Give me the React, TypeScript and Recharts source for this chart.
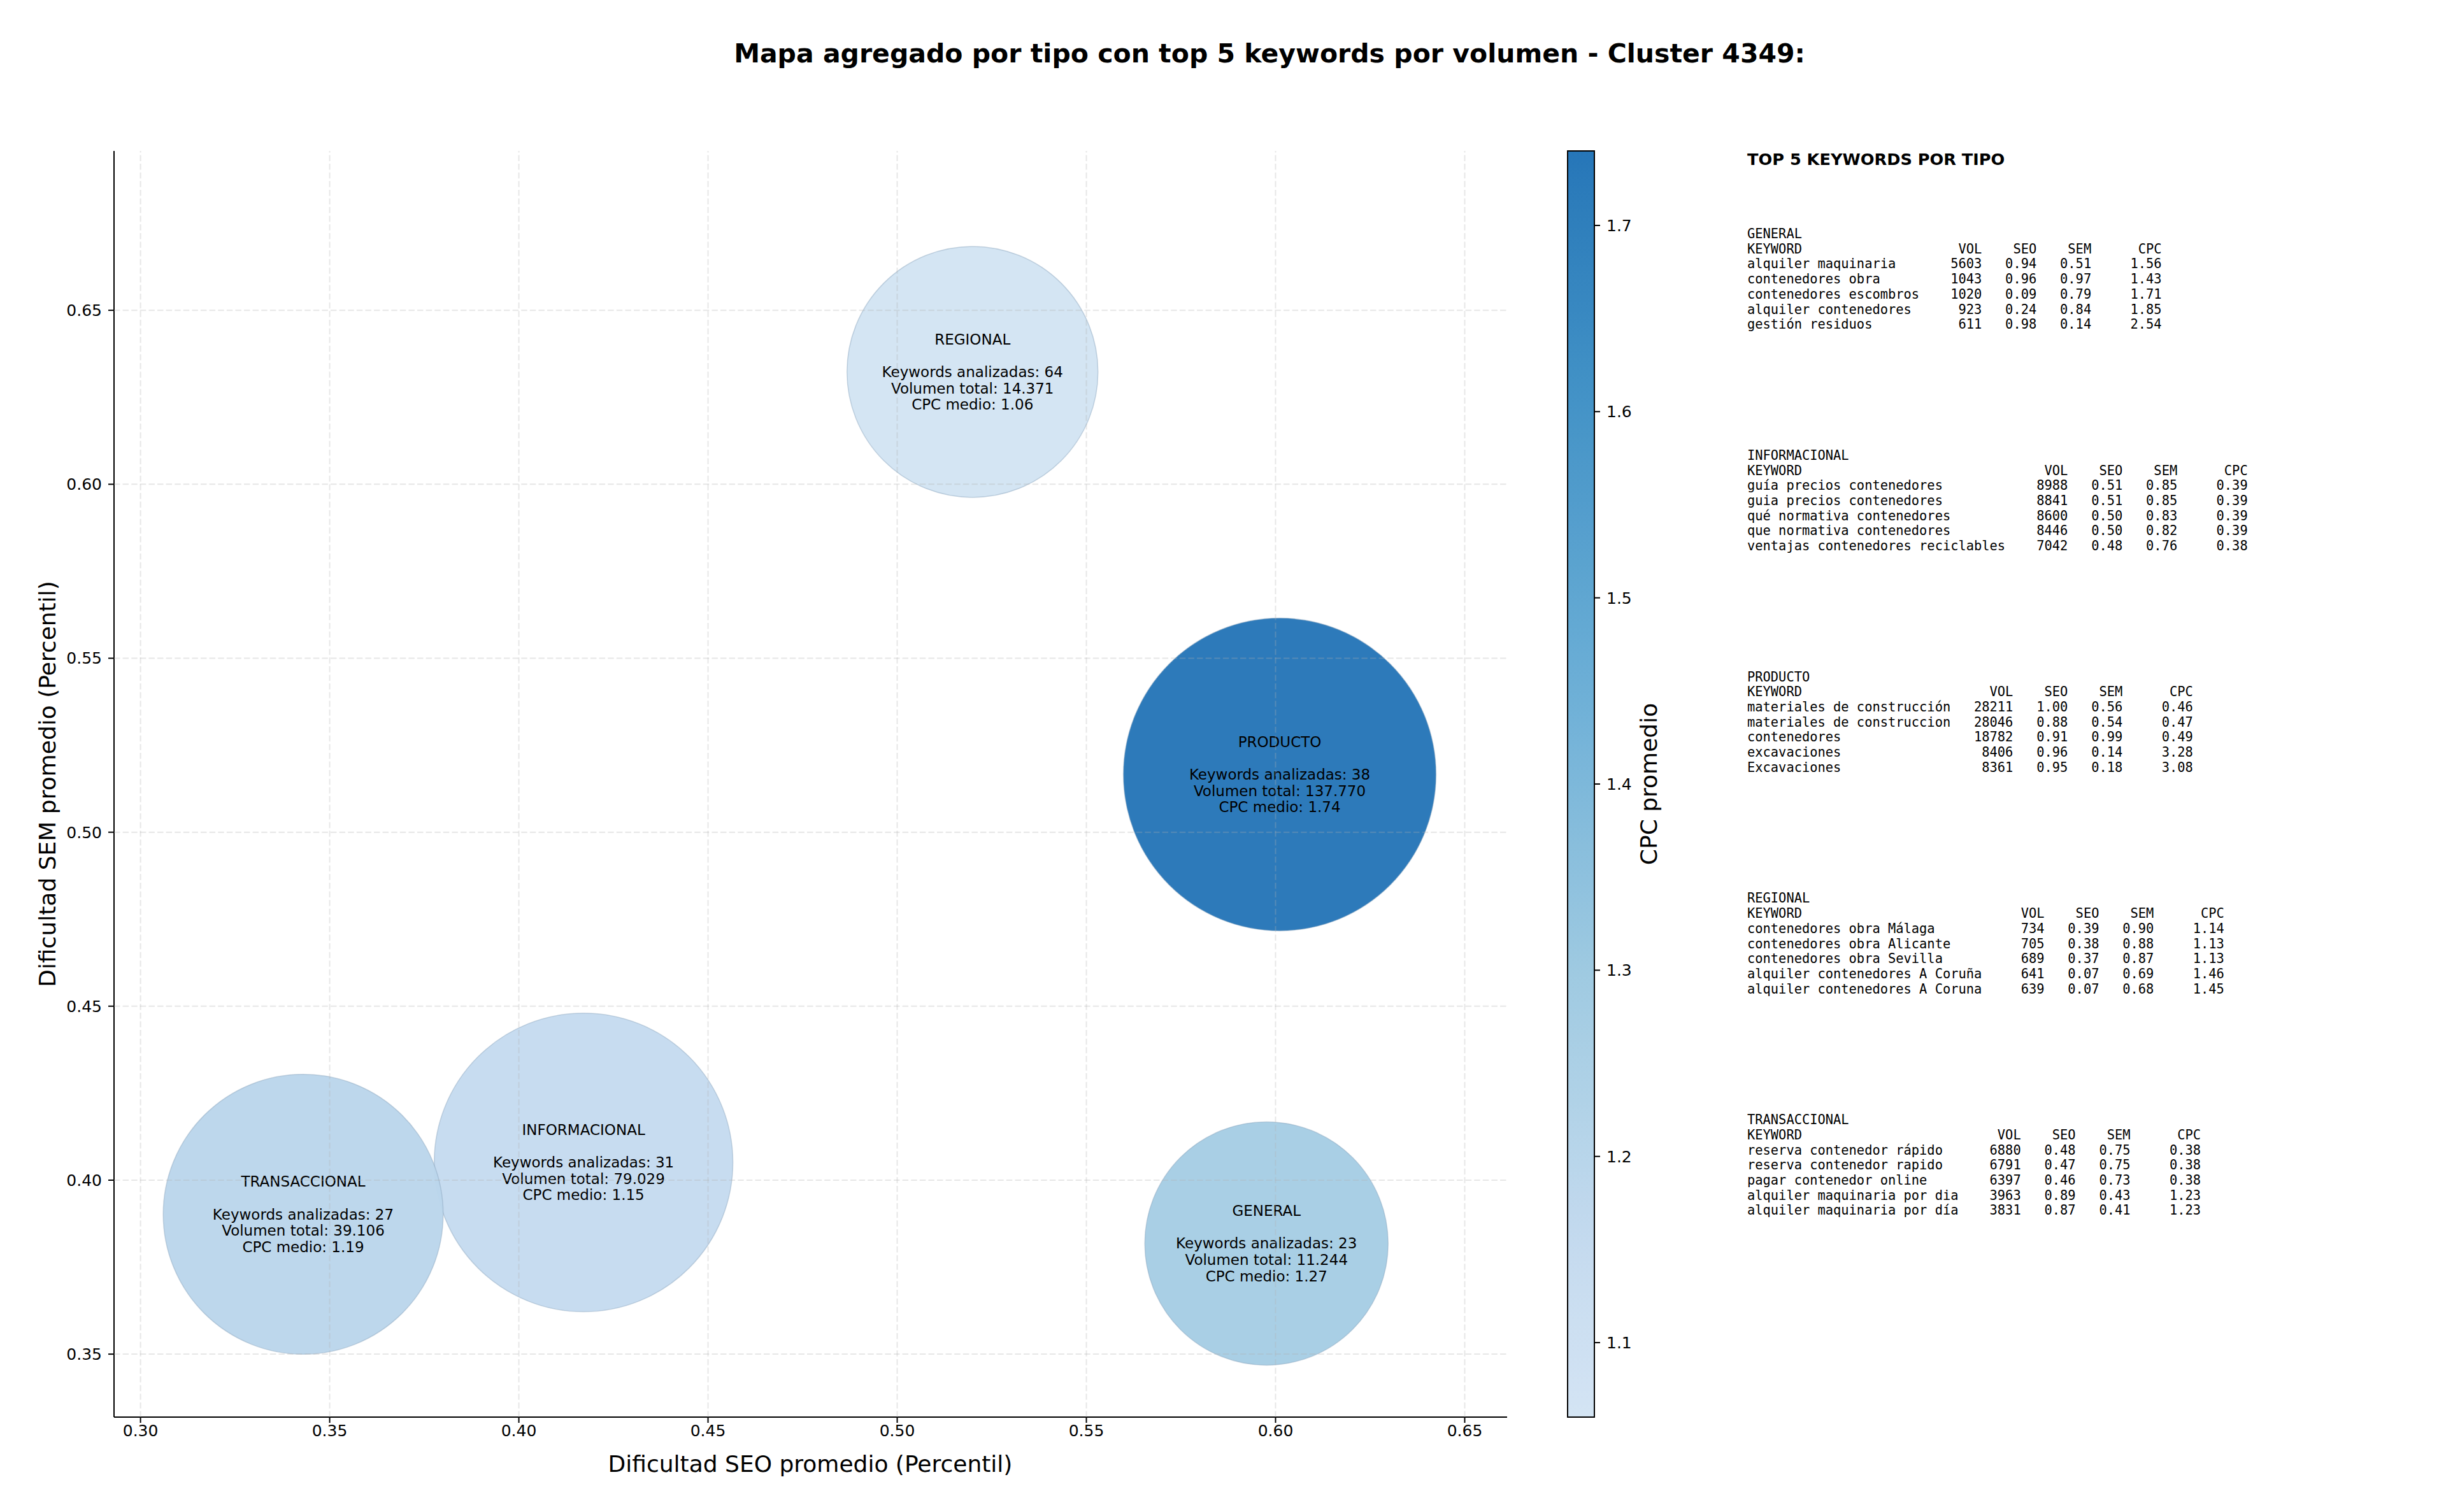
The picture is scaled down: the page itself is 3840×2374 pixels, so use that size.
import React from 'react';
import { ScatterChart, Scatter, XAxis, YAxis, ZAxis, ReferenceLine, BarChart, Bar } from 'recharts';

// aggregated values per type (alphabetical, same order as the table)
const tipos = ['GENERAL', 'INFORMACIONAL', 'PRODUCTO', 'REGIONAL', 'TRANSACCIONAL'];
const seoMedio = [0.5976, 0.4171, 0.6011, 0.5199, 0.343];
const semMedio = [0.3818, 0.4051, 0.5166, 0.6323, 0.3902];
const numKeywords = [23, 31, 38, 64, 27];
const volumenTotal = [11244, 79029, 137770, 14371, 39106];
const cpcMedio = [1.27, 1.15, 1.74, 1.06, 1.19];

const xTicks = [0.3, 0.35, 0.4, 0.45, 0.5, 0.55, 0.6, 0.65];
const yTicks = [0.35, 0.4, 0.45, 0.5, 0.55, 0.6, 0.65];
const cbTicks = [1.1, 1.2, 1.3, 1.4, 1.5, 1.6, 1.7];

type Row = [string, number, number, number, number];

// top 5 keywords por volumen: keyword, vol, seo, sem, cpc
const topGeneral: Row[] = [
  ['alquiler maquinaria', 5603, 0.94, 0.51, 1.56],
  ['contenedores obra', 1043, 0.96, 0.97, 1.43],
  ['contenedores escombros', 1020, 0.09, 0.79, 1.71],
  ['alquiler contenedores', 923, 0.24, 0.84, 1.85],
  ['gestión residuos', 611, 0.98, 0.14, 2.54],
];
const topInformacional: Row[] = [
  ['guía precios contenedores', 8988, 0.51, 0.85, 0.39],
  ['guia precios contenedores', 8841, 0.51, 0.85, 0.39],
  ['qué normativa contenedores', 8600, 0.5, 0.83, 0.39],
  ['que normativa contenedores', 8446, 0.5, 0.82, 0.39],
  ['ventajas contenedores reciclables', 7042, 0.48, 0.76, 0.38],
];
const topProducto: Row[] = [
  ['materiales de construcción', 28211, 1.0, 0.56, 0.46],
  ['materiales de construccion', 28046, 0.88, 0.54, 0.47],
  ['contenedores', 18782, 0.91, 0.99, 0.49],
  ['excavaciones', 8406, 0.96, 0.14, 3.28],
  ['Excavaciones', 8361, 0.95, 0.18, 3.08],
];
const topRegional: Row[] = [
  ['contenedores obra Málaga', 734, 0.39, 0.9, 1.14],
  ['contenedores obra Alicante', 705, 0.38, 0.88, 1.13],
  ['contenedores obra Sevilla', 689, 0.37, 0.87, 1.13],
  ['alquiler contenedores A Coruña', 641, 0.07, 0.69, 1.46],
  ['alquiler contenedores A Coruna', 639, 0.07, 0.68, 1.45],
];
const topTransaccional: Row[] = [
  ['reserva contenedor rápido', 6880, 0.48, 0.75, 0.38],
  ['reserva contenedor rapido', 6791, 0.47, 0.75, 0.38],
  ['pagar contenedor online', 6397, 0.46, 0.73, 0.38],
  ['alquiler maquinaria por dia', 3963, 0.89, 0.43, 1.23],
  ['alquiler maquinaria por día', 3831, 0.87, 0.41, 1.23],
];
const topPorTipo = [topGeneral, topInformacional, topProducto, topRegional, topTransaccional];

// matplotlib "Blues", truncated
const BLUES = [
  [247, 251, 255], [222, 235, 247], [198, 219, 239], [158, 202, 225], [107, 174, 214],
  [66, 146, 198], [33, 113, 181], [8, 81, 156], [8, 48, 107],
];
function blues(t: number) {
  const p = Math.max(0, Math.min(1, t)) * 8;
  const i = Math.min(7, Math.floor(p));
  const f = p - i;
  const c = BLUES[i].map((v, k) => Math.round(v + (BLUES[i + 1][k] - v) * f));
  return `rgb(${c[0]},${c[1]},${c[2]})`;
}
const cpcMin = Math.min(...cpcMedio);
const cpcMax = Math.max(...cpcMedio);
const cpcColor = (v: number) => blues(0.18 + ((v - cpcMin) / (cpcMax - cpcMin)) * 0.55);

const fmtMiles = (n: number) => String(n).replace(/\B(?=(\d{3})+(?!\d))/g, '.');

const bubbles = tipos.map((t, i) => ({
  tipo: t,
  seo: seoMedio[i],
  sem: semMedio[i],
  n: numKeywords[i],
  vol: volumenTotal[i],
  cpc: cpcMedio[i],
  z: Math.log(volumenTotal[i]),
}));
const zMin = Math.min(...bubbles.map(b => b.z));
const zMax = Math.max(...bubbles.map(b => b.z));

const colorbarData = [{ name: 'cpc', range: [cpcMin, cpcMax] }];

const FONT = 'DejaVu Sans, Liberation Sans, sans-serif';
const MONO = 'DejaVu Sans Mono, Liberation Mono, monospace';

function Bubble(props: any) {
  const { cx, cy, payload } = props;
  const r = props.width ? props.width / 2 : Math.sqrt(props.size / Math.PI);
  const lines = [payload.tipo, '', `Keywords analizadas: ${payload.n}`, `Volumen total: ${fmtMiles(payload.vol)}`, `CPC medio: ${payload.cpc.toFixed(2)}`];
  return (
    <g>
      <circle cx={cx} cy={cy} r={r} fill={cpcColor(payload.cpc)} fillOpacity={0.97} stroke="#8aa4bd" strokeOpacity={0.45} strokeWidth={1.5} />
      {lines.map((l, k) => (
        <text key={k} x={cx} y={cy + (k - 2) * 25.6} textAnchor="middle" dominantBaseline="central" fontSize={23} fontFamily={FONT} fill="#000">{l}</text>
      ))}
    </g>
  );
}

function tableLines(tipo: string, rows: Row[]) {
  const w = Math.max(...rows.map(r => r[0].length)) + 2;
  const head = 'KEYWORD'.padEnd(w) + 'VOL'.padStart(6) + 'SEO'.padStart(7) + 'SEM'.padStart(7) + 'CPC'.padStart(9);
  const body = rows.map(r => r[0].padEnd(w) + String(r[1]).padStart(6) + r[2].toFixed(2).padStart(7) + r[3].toFixed(2).padStart(7) + r[4].toFixed(2).padStart(9));
  return [tipo, head, ...body];
}

const axisStyle = { stroke: '#000', strokeWidth: 2 };
const tickStyle = { fill: '#000', fontSize: 25, fontFamily: FONT };
const gridProps = { stroke: '#b0b0b0', strokeOpacity: 0.3, strokeWidth: 2, strokeDasharray: '9.5 4.1', zIndex: 1000 };

export default function App() {
  const stops = Array.from({ length: 41 }, (_, i) => i / 40);
  return (
    <div style={{ position: 'absolute', left: 0, top: 0, width: 3840, height: 2374, background: '#fff' }}>
      <svg width={0} height={0} style={{ position: 'absolute' }}>
        <defs>
          <linearGradient id="cbGrad" x1="0" y1="0" x2="0" y2="1">
            {stops.map(s => (
              <stop key={s} offset={`${s * 100}%`} stopColor={cpcColor(cpcMax - s * (cpcMax - cpcMin))} />
            ))}
          </linearGradient>
        </defs>
      </svg>

      <div style={{ position: 'absolute', left: 0, top: 0 }}>
        <ScatterChart width={2400} height={2374} margin={{ top: 237, right: 34, bottom: 89, left: 79 }}>
          <XAxis type="number" dataKey="seo" domain={[0.293, 0.6612]} ticks={xTicks} allowDataOverflow
            tickFormatter={(v: number) => v.toFixed(2)} height={60} tickSize={9} tickMargin={3}
            axisLine={axisStyle} tickLine={axisStyle} tick={tickStyle} />
          <YAxis type="number" dataKey="sem" domain={[0.3319, 0.6958]} ticks={yTicks} allowDataOverflow
            tickFormatter={(v: number) => v.toFixed(2)} width={100} tickSize={9} tickMargin={10}
            axisLine={axisStyle} tickLine={axisStyle} tick={tickStyle} />
          <ZAxis type="number" dataKey="z" domain={[zMin, zMax]} range={[114600, 189200]} />
          <Scatter data={bubbles} shape={Bubble} isAnimationActive={false} />
          {xTicks.map(v => <ReferenceLine key={'x' + v} x={v} {...gridProps} />)}
          {yTicks.map(v => <ReferenceLine key={'y' + v} y={v} {...gridProps} />)}
        </ScatterChart>
      </div>

      <div style={{ position: 'absolute', left: 2461, top: 0 }}>
        <BarChart width={142} height={2374} data={colorbarData} barCategoryGap={0}
          margin={{ top: 237, right: 0, bottom: 149, left: 0 }}>
          <XAxis dataKey="name" hide />
          <YAxis type="number" orientation="right" domain={[cpcMin, cpcMax]} ticks={cbTicks} allowDataOverflow
            tickFormatter={(v: number) => v.toFixed(1)} width={100} tickSize={9} tickMargin={10}
            axisLine={false} tickLine={axisStyle} tick={tickStyle} />
          <Bar dataKey="range" fill="url(#cbGrad)" stroke="#000" strokeWidth={2} isAnimationActive={false} />
        </BarChart>
      </div>
      {/* colorbar outline */}
      <div style={{ position: 'absolute', left: 2460, top: 236, width: 44, height: 1990, border: '2px solid #000', boxSizing: 'border-box', pointerEvents: 'none' }} />

      <svg width={3840} height={2374} style={{ position: 'absolute', left: 0, top: 0, pointerEvents: 'none' }}>
        <text x={1993} y={98} textAnchor="middle" fontSize={41} fontWeight="bold" fontFamily={FONT}>
          Mapa agregado por tipo con top 5 keywords por volumen - Cluster 4349:
        </text>
        <text x={1272} y={2311} textAnchor="middle" fontSize={36} fontFamily={FONT}>Dificultad SEO promedio (Percentil)</text>
        <text transform="translate(74,1231) rotate(-90)" textAnchor="middle" dominantBaseline="central" fontSize={36} fontFamily={FONT}>
          Dificultad SEM promedio (Percentil)
        </text>
        <text transform="translate(2588,1231) rotate(-90)" textAnchor="middle" dominantBaseline="central" fontSize={36} fontFamily={FONT}>
          CPC promedio
        </text>
        <text x={2743} y={259} fontSize={25.6} fontWeight="bold" fontFamily={FONT}>TOP 5 KEYWORDS POR TIPO</text>
        {tipos.map((t, b) =>
          tableLines(t, topPorTipo[b]).map((l, k) => (
            <text key={t + k} x={2743} y={374 + b * 347.8 + k * 23.7} fontSize={20.4} fontFamily={MONO}
              xmlSpace="preserve" style={{ whiteSpace: 'pre' }}>{l}</text>
          ))
        )}
      </svg>
    </div>
  );
}
